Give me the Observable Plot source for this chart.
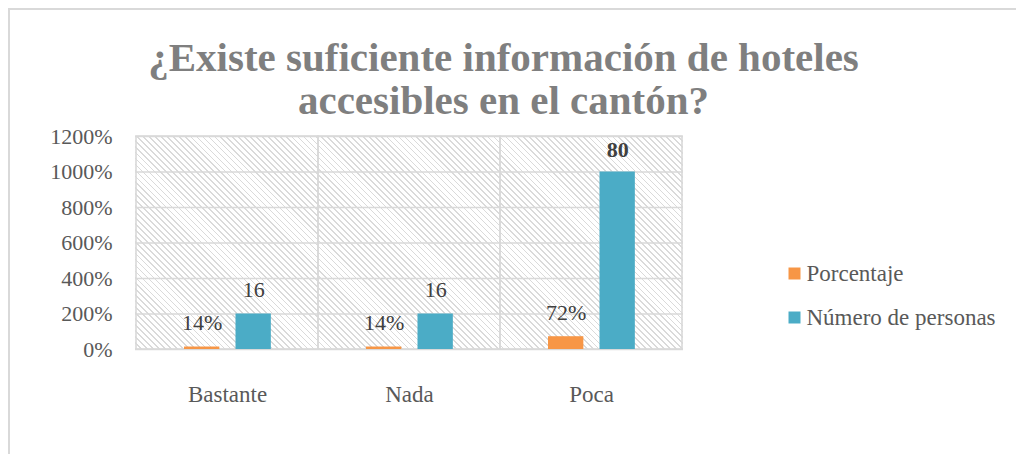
<!DOCTYPE html>
<html>
<head>
<meta charset="utf-8">
<script src="https://cdn.jsdelivr.net/npm/d3@7"></script>
<script src="https://cdn.jsdelivr.net/npm/@observablehq/plot@0.6"></script>
</head>
<body style="margin:0">
<div style="position:relative;width:1016px;height:454px;">
  <div style="position:absolute;left:135px;top:136px;width:548px;height:213px;background:repeating-linear-gradient(45deg, #dadada 0px, #dadada 1.2px, #ffffff 1.2px, #ffffff 4.2px);"></div>
  <div id="chart" style="position:absolute;left:0;top:0;"></div>
</div>
<script>
// Data
const title = "¿Existe suficiente información de hoteles\naccesibles en el cantón?";
const categories = ["Bastante", "Nada", "Poca"];
const porcentaje = [0.14, 0.14, 0.72];          // bar height on the % axis (1 = 100%)
const porcentajeLabels = ["14%", "14%", "72%"];
const personasHeight = [2, 2, 10];             // bar height on the % axis (2 = 200%)
const personasLabels = ["16", "16", "80"];
const seriesNames = ["Porcentaje", "Número de personas"];
const yTicks = [0, 2, 4, 6, 8, 10, 12];

const orange = "#F79646", teal = "#4BACC6", grid = "#d9d9d9";
const serif = "'Liberation Serif', serif";

const rowsP = categories.map((c, i) => ({cat: c, v: porcentaje[i], label: porcentajeLabels[i]}));
const rowsN = categories.map((c, i) => ({cat: c, v: personasHeight[i], label: personasLabels[i], bold: personasLabels[i] === "80"}));

const W = 1016, H = 454, ML = 135, MR = 333, MT = 136, MB = 105;
const band = (W - ML - MR) / categories.length;
const frameW = W - ML - MR;

const plot = Plot.plot({
  width: W,
  height: H,
  marginLeft: ML,
  marginRight: MR,
  marginTop: MT,
  marginBottom: MB,
  style: {fontFamily: serif, background: "transparent"},
  x: {domain: categories, padding: 0, label: null},
  y: {domain: [0, 12], label: null},
  marks: [
    Plot.gridY(yTicks, {stroke: grid, strokeOpacity: 1, strokeWidth: 1.6}),
    Plot.barY(categories, {x: d => d, y1: 0, y2: 12, fill: "none", stroke: grid, strokeWidth: 1.6}),
    Plot.barY(rowsP, {x: "cat", y: "v", fill: orange, insetLeft: 48, insetRight: band - 84}),
    Plot.barY(rowsN, {x: "cat", y: "v", fill: teal, insetLeft: 99.5, insetRight: band - 135.5}),
    Plot.text(rowsP, {x: "cat", y: "v", text: "label", dx: 66 - band / 2, dy: -24, fontSize: 22, fill: "#404040"}),
    Plot.text(rowsN.filter(d => !d.bold), {x: "cat", y: "v", text: "label", dx: 117.5 - band / 2, dy: -24, fontSize: 22, fill: "#404040"}),
    Plot.text(rowsN.filter(d => d.bold), {x: "cat", y: "v", text: "label", dx: 117.5 - band / 2, dy: -22, fontSize: 22, fontWeight: "bold", fill: "#404040"}),
    Plot.axisY({ticks: yTicks, tickSize: 0, tickPadding: 23, tickFormat: d => d * 100 + "%", fontSize: 22, fill: "#595959"}),
    Plot.axisX({tickSize: 0, tickPadding: 36, fontSize: 23, fill: "#595959"}),
    // title
    Plot.text([title], {text: d => d, frameAnchor: "top", lineAnchor: "bottom", lineHeight: 43 / 41,
      dx: 503 - (ML + frameW / 2), dy: 113.5 - MT, fontSize: 41, fontWeight: "bold", fill: "#7f7f7f"}),
    // legend swatches and labels
    Plot.dot([seriesNames[0]], {frameAnchor: "top-left", symbol: "square", r: Math.sqrt(144 / Math.PI), fill: orange, stroke: "none", dx: 794 - ML, dy: 273 - MT}),
    Plot.dot([seriesNames[1]], {frameAnchor: "top-left", symbol: "square", r: Math.sqrt(144 / Math.PI), fill: teal, stroke: "none", dx: 794 - ML, dy: 317 - MT}),
    Plot.text([seriesNames[0]], {text: d => d, frameAnchor: "top-left", lineAnchor: "middle", textAnchor: "start", dx: 806 - ML, dy: 273 - MT, fontSize: 23, fill: "#595959"}),
    Plot.text([seriesNames[1]], {text: d => d, frameAnchor: "top-left", lineAnchor: "middle", textAnchor: "start", dx: 806 - ML, dy: 317 - MT, fontSize: 23, fill: "#595959"})
  ]
});

// chart-area border (decoration)
const ns = "http://www.w3.org/2000/svg";
const border = document.createElementNS(ns, "path");
border.setAttribute("d", "M9,454 V9 H1016");
border.setAttribute("fill", "none");
border.setAttribute("stroke", "#d9d9d9");
border.setAttribute("stroke-width", "2");
plot.appendChild(border);

document.getElementById("chart").appendChild(plot);
</script>
</body>
</html>
